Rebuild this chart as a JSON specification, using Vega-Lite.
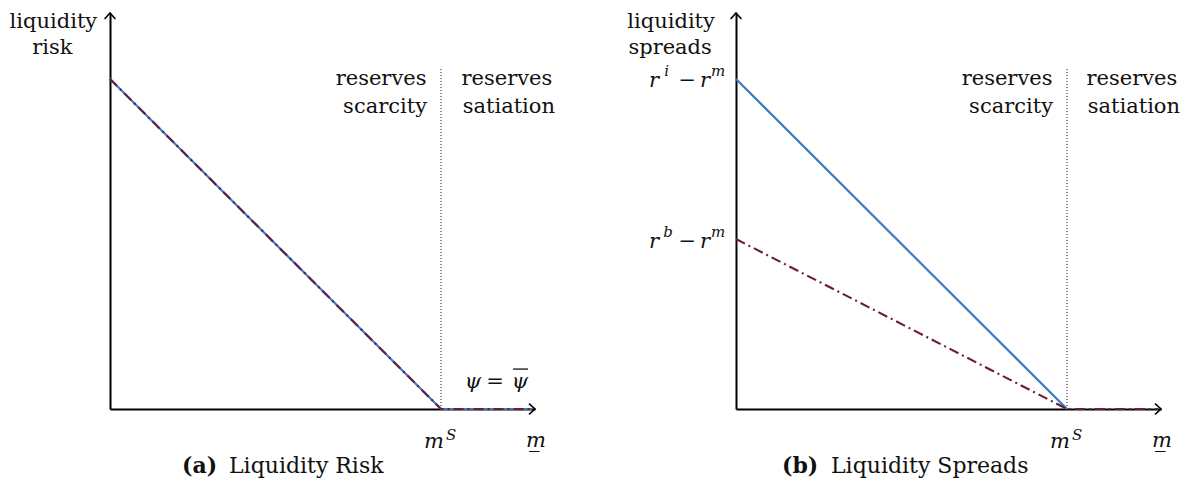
{
  "$schema": "https://vega.github.io/schema/vega-lite/v6.json",
  "background": "white",
  "padding": {"left": 9, "top": 9, "right": 0, "bottom": 0},
  "bounds": "flush",
  "spacing": 201,
  "config": {
    "view": {"stroke": null},
    "font": "DejaVu Serif"
  },
  "datasets": {
    "axisHeads": [
      {"dir": "right", "x": 1.284, "y": 0},
      {"dir": "up", "x": 0, "y": 1.2}
    ],
    "msLine": [{"x": 1, "y": 0, "y2": 1.033}],
    "barA": [{"x": 1.218, "x2": 1.263, "y": 0.121}],
    "linesA": [
      {"s": "blue", "x": 0, "y": 1},
      {"s": "blue", "x": 1, "y": 0},
      {"s": "blue", "x": 1.275, "y": 0},
      {"s": "purple", "x": 0, "y": 1},
      {"s": "purple", "x": 1, "y": 0},
      {"s": "purple", "x": 1.275, "y": 0}
    ],
    "linesB": [
      {"s": "blue", "x": 0, "y": 1},
      {"s": "blue", "x": 1, "y": 0},
      {"s": "purple", "x": 0, "y": 0.515},
      {"s": "purple", "x": 1, "y": 0},
      {"s": "purple", "x": 1.275, "y": 0}
    ],
    "wordsA": [
      {"t": "liquidity", "x": -0.171, "y": 1.155},
      {"t": "risk", "x": -0.174, "y": 1.076},
      {"t": "reserves", "x": 0.819, "y": 0.982},
      {"t": "scarcity", "x": 0.831, "y": 0.897},
      {"t": "reserves", "x": 1.199, "y": 0.982},
      {"t": "satiation", "x": 1.205, "y": 0.897}
    ],
    "wordsB": [
      {"t": "liquidity", "x": -0.196, "y": 1.155},
      {"t": "spreads", "x": -0.199, "y": 1.076},
      {"t": "reserves", "x": 0.819, "y": 0.982},
      {"t": "scarcity", "x": 0.831, "y": 0.897},
      {"t": "reserves", "x": 1.196, "y": 0.982},
      {"t": "satiation", "x": 1.202, "y": 0.897}
    ],
    "mathA": [
      {"t": "m", "x": 0.949, "y": -0.118}
    ],
    "mathB": [
      {"t": "m", "x": 0.949, "y": -0.118},
      {"t": "r", "x": -0.263, "y": 0.976},
      {"t": "r", "x": -0.109, "y": 0.976},
      {"t": "r", "x": -0.263, "y": 0.488},
      {"t": "r", "x": -0.109, "y": 0.488}
    ],
    "supA": [
      {"t": "S", "x": 1.015, "y": -0.094}
    ],
    "supB": [
      {"t": "S", "x": 1.015, "y": -0.094},
      {"t": "i", "x": -0.217, "y": 1.009},
      {"t": "m", "x": -0.0755, "y": 1.009},
      {"t": "b", "x": -0.220, "y": 0.521},
      {"t": "m", "x": -0.0755, "y": 0.521}
    ],
    "opsA": [
      {"t": "=", "x": 1.163, "y": 0.064}
    ],
    "opsB": [
      {"t": "−", "x": -0.147, "y": 0.976},
      {"t": "−", "x": -0.147, "y": 0.488}
    ],
    "centerMathA": [
      {"t": "ψ", "x": 1.097, "y": 0.064},
      {"t": "ψ", "x": 1.239, "y": 0.064},
      {"t": "m̲", "x": 1.287, "y": -0.115}
    ],
    "centerMathB": [
      {"t": "m̲", "x": 1.287, "y": -0.115}
    ],
    "capBoldA": [{"t": "(a)", "x": 0.2175, "y": -0.194}],
    "capA": [{"t": "Liquidity Risk", "x": 0.3595, "y": -0.194}],
    "capBoldB": [{"t": "(b)", "x": 0.139, "y": -0.194}],
    "capB": [{"t": "Liquidity Spreads", "x": 0.287, "y": -0.194}]
  },
  "hconcat": [
    {
      "width": 425,
      "height": 396,
      "encoding": {
        "x": {"field": "x", "type": "quantitative", "scale": {"domain": [0, 1.284], "nice": false, "zero": false},
              "axis": {"title": null, "ticks": false, "labels": false, "grid": false, "domainColor": "#000000", "domainWidth": 2}},
        "y": {"field": "y", "type": "quantitative", "scale": {"domain": [0, 1.2], "nice": false, "zero": false},
              "axis": {"title": null, "ticks": false, "labels": false, "grid": false, "domainColor": "#000000", "domainWidth": 2}}
      },
      "layer": [
        {"data": {"name": "msLine"}, "mark": {"type": "rule", "strokeDash": [1, 2], "strokeWidth": 1, "color": "#222222"},
         "encoding": {"y2": {"field": "y2"}}},
        {"data": {"name": "linesA"}, "transform": [{"filter": "datum.s === 'blue'"}],
         "mark": {"type": "line", "color": "#3b7cc2", "strokeWidth": 2.2}, "encoding": {}},
        {"data": {"name": "linesA"}, "transform": [{"filter": "datum.s === 'purple'"}],
         "mark": {"type": "line", "color": "#6b1a42", "strokeWidth": 2.1, "strokeDash": [10, 4, 2, 4]}, "encoding": {}},
        {"data": {"name": "axisHeads"}, "transform": [{"filter": "datum.dir === 'right'"}],
         "mark": {"type": "point", "shape": "M -1 -0.9 L 0 0 L -1 0.9", "size": 144, "filled": false, "stroke": "#000000", "strokeWidth": 1.6, "opacity": 1}},
        {"data": {"name": "axisHeads"}, "transform": [{"filter": "datum.dir === 'up'"}],
         "mark": {"type": "point", "shape": "M -0.9 1 L 0 0 L 0.9 1", "size": 144, "filled": false, "stroke": "#000000", "strokeWidth": 1.6, "opacity": 1}},
        {"data": {"name": "barA"}, "mark": {"type": "rule", "strokeWidth": 1.3, "color": "#111111"},
         "encoding": {"x2": {"field": "x2"}}},
        {"data": {"name": "wordsA"}, "mark": {"type": "text", "font": "DejaVu Serif", "fontSize": 21, "align": "center", "baseline": "alphabetic", "color": "#111111"},
         "encoding": {"text": {"field": "t"}}},
        {"data": {"name": "mathA"}, "mark": {"type": "text", "font": "DejaVu Serif", "fontSize": 21, "fontStyle": "italic", "align": "left", "baseline": "alphabetic", "color": "#111111"},
         "encoding": {"text": {"field": "t"}}},
        {"data": {"name": "supA"}, "mark": {"type": "text", "font": "DejaVu Serif", "fontSize": 15, "fontStyle": "italic", "align": "left", "baseline": "alphabetic", "color": "#111111"},
         "encoding": {"text": {"field": "t"}}},
        {"data": {"name": "opsA"}, "mark": {"type": "text", "font": "DejaVu Serif", "fontSize": 21, "align": "center", "baseline": "alphabetic", "color": "#111111"},
         "encoding": {"text": {"field": "t"}}},
        {"data": {"name": "centerMathA"}, "mark": {"type": "text", "font": "DejaVu Serif", "fontSize": 21, "fontStyle": "italic", "align": "center", "baseline": "alphabetic", "color": "#111111"},
         "encoding": {"text": {"field": "t"}}},
        {"data": {"name": "capBoldA"}, "mark": {"type": "text", "font": "DejaVu Serif", "fontSize": 22, "fontWeight": "bold", "align": "left", "baseline": "alphabetic", "color": "#111111"},
         "encoding": {"text": {"field": "t"}}},
        {"data": {"name": "capA"}, "mark": {"type": "text", "font": "DejaVu Serif", "fontSize": 22, "align": "left", "baseline": "alphabetic", "color": "#111111"},
         "encoding": {"text": {"field": "t"}}}
      ]
    },
    {
      "width": 425,
      "height": 396,
      "encoding": {
        "x": {"field": "x", "type": "quantitative", "scale": {"domain": [0, 1.284], "nice": false, "zero": false},
              "axis": {"title": null, "ticks": false, "labels": false, "grid": false, "domainColor": "#000000", "domainWidth": 2}},
        "y": {"field": "y", "type": "quantitative", "scale": {"domain": [0, 1.2], "nice": false, "zero": false},
              "axis": {"title": null, "ticks": false, "labels": false, "grid": false, "domainColor": "#000000", "domainWidth": 2}}
      },
      "layer": [
        {"data": {"name": "msLine"}, "mark": {"type": "rule", "strokeDash": [1, 2], "strokeWidth": 1, "color": "#222222"},
         "encoding": {"y2": {"field": "y2"}}},
        {"data": {"name": "linesB"}, "transform": [{"filter": "datum.s === 'blue'"}],
         "mark": {"type": "line", "color": "#3b7cc2", "strokeWidth": 2.2}, "encoding": {}},
        {"data": {"name": "linesB"}, "transform": [{"filter": "datum.s === 'purple'"}],
         "mark": {"type": "line", "color": "#6b1a42", "strokeWidth": 2.1, "strokeDash": [10, 4, 2, 4]}, "encoding": {}},
        {"data": {"name": "axisHeads"}, "transform": [{"filter": "datum.dir === 'right'"}],
         "mark": {"type": "point", "shape": "M -1 -0.9 L 0 0 L -1 0.9", "size": 144, "filled": false, "stroke": "#000000", "strokeWidth": 1.6, "opacity": 1}},
        {"data": {"name": "axisHeads"}, "transform": [{"filter": "datum.dir === 'up'"}],
         "mark": {"type": "point", "shape": "M -0.9 1 L 0 0 L 0.9 1", "size": 144, "filled": false, "stroke": "#000000", "strokeWidth": 1.6, "opacity": 1}},
        {"data": {"name": "wordsB"}, "mark": {"type": "text", "font": "DejaVu Serif", "fontSize": 21, "align": "center", "baseline": "alphabetic", "color": "#111111"},
         "encoding": {"text": {"field": "t"}}},
        {"data": {"name": "mathB"}, "mark": {"type": "text", "font": "DejaVu Serif", "fontSize": 21, "fontStyle": "italic", "align": "left", "baseline": "alphabetic", "color": "#111111"},
         "encoding": {"text": {"field": "t"}}},
        {"data": {"name": "supB"}, "mark": {"type": "text", "font": "DejaVu Serif", "fontSize": 15, "fontStyle": "italic", "align": "left", "baseline": "alphabetic", "color": "#111111"},
         "encoding": {"text": {"field": "t"}}},
        {"data": {"name": "opsB"}, "mark": {"type": "text", "font": "DejaVu Serif", "fontSize": 21, "align": "center", "baseline": "alphabetic", "color": "#111111"},
         "encoding": {"text": {"field": "t"}}},
        {"data": {"name": "centerMathB"}, "mark": {"type": "text", "font": "DejaVu Serif", "fontSize": 21, "fontStyle": "italic", "align": "center", "baseline": "alphabetic", "color": "#111111"},
         "encoding": {"text": {"field": "t"}}},
        {"data": {"name": "capBoldB"}, "mark": {"type": "text", "font": "DejaVu Serif", "fontSize": 22, "fontWeight": "bold", "align": "left", "baseline": "alphabetic", "color": "#111111"},
         "encoding": {"text": {"field": "t"}}},
        {"data": {"name": "capB"}, "mark": {"type": "text", "font": "DejaVu Serif", "fontSize": 22, "align": "left", "baseline": "alphabetic", "color": "#111111"},
         "encoding": {"text": {"field": "t"}}}
      ]
    }
  ]
}
